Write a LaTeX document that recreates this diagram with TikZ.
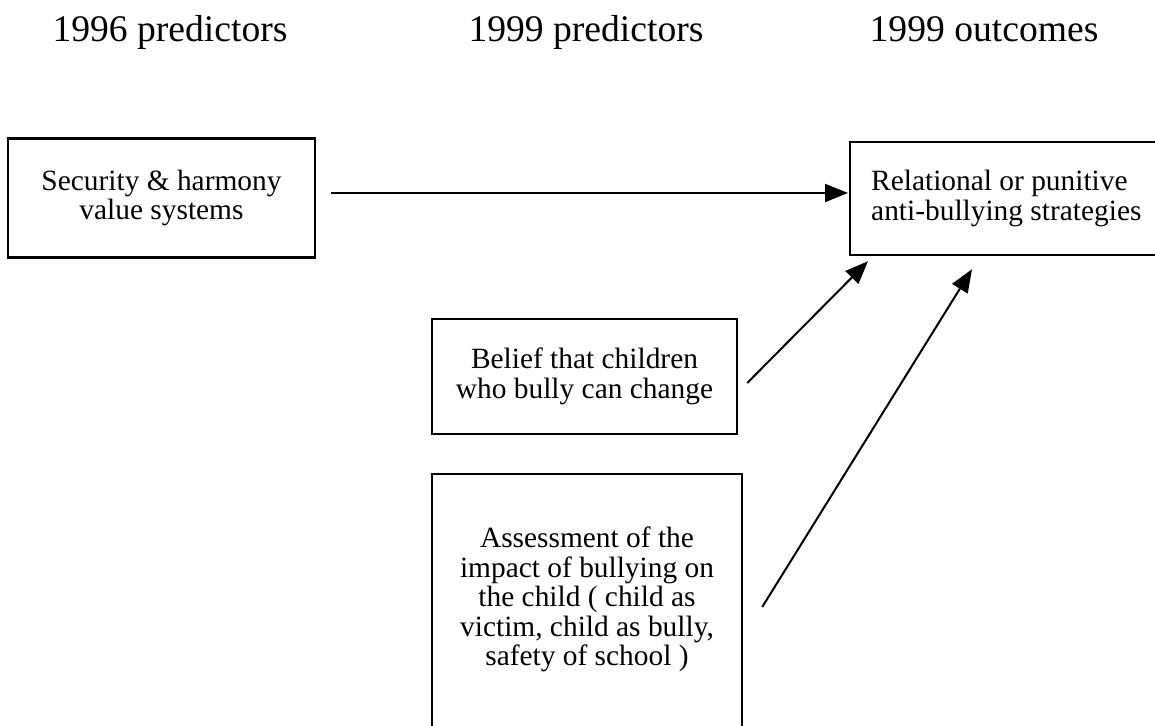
\documentclass[tikz,border=0pt]{standalone}
\usepackage{fontspec}
\setmainfont{Liberation Serif}
\usetikzlibrary{arrows.meta}

\begin{document}
\begin{tikzpicture}[x=0.5pt,y=-0.5pt,
    box/.style={draw,line width=1.2pt,inner sep=0pt,align=center,font=\fontsize{14.7}{14.7}\selectfont},
    hdr/.style={anchor=base,font=\fontsize{18.8}{22}\selectfont},
    arr/.style={-{Triangle[length=11.5pt,width=9pt]},line width=1pt}]
        \useasboundingbox (0,0) rectangle (1155,726);
        % column headings
        \node[hdr] (h96) at (170,42) {1996 predictors};
        \node[hdr] (h99p) at (586,42) {1999 predictors};
        \node[hdr] (h99o) at (984,42) {1999 outcomes};
        % predictor and outcome boxes
        \node[box,minimum width=153.5pt,minimum height=59.5pt] (sec) at (161.5,198) {Security \& harmony\\value systems};
        \node[box,anchor=west,align=left,inner xsep=10.5pt,minimum height=56.5pt] (rel) at (849,198.5) {Relational or punitive\\anti-bullying strategies\hspace*{10pt}};
        \node[box,minimum width=152.5pt,minimum height=57.5pt] (belief) at (584.5,376.5) {Belief that children\\who bully can change};
        \node[box,anchor=north,minimum width=155pt,inner ysep=26.5pt] (assess) at (587,473) {Assessment of the\\impact of bullying on\\the child ( child as\\victim, child as bully,\\safety of school )\rule[-90pt]{0pt}{0pt}};
        % paths to the outcome
        \draw[arr] ([shift={(15,-5)}]sec.east) -- ([shift={(-1,-5.5)}]rel.west);
        \draw[arr] ([shift={(9,6.5)}]belief.east) -- ([shift={(19,5)}]rel.south west);
        \draw[arr] ([shift={(19,134)}]assess.north east) -- ([shift={(123,13)}]rel.south west);
    \end{tikzpicture}
\end{document}
